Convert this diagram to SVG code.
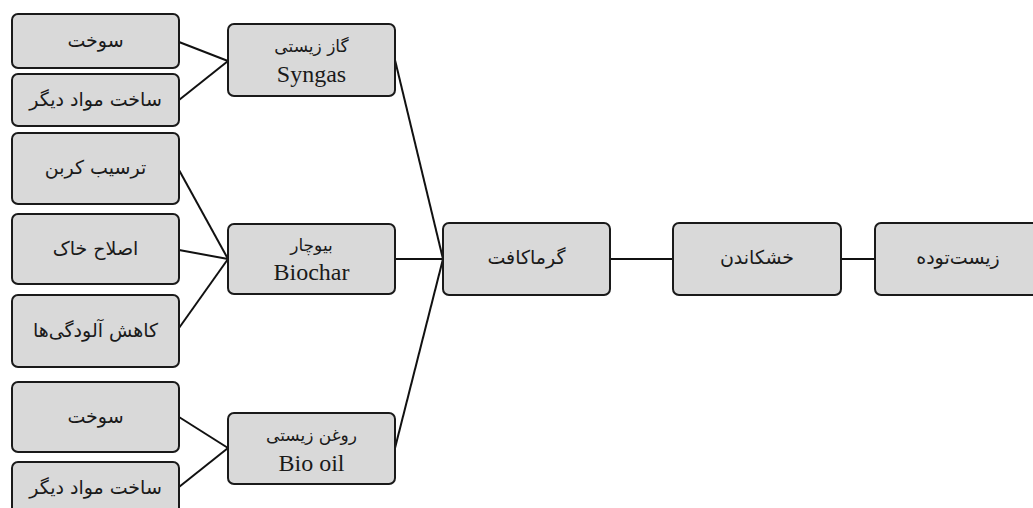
<svg xmlns="http://www.w3.org/2000/svg" width="1033" height="508" viewBox="0 0 1033 508">
<style>
.box{fill:#d9d9d9;stroke:#1a1a1a;stroke-width:2}
.fa{font-family:"DejaVu Sans",sans-serif;font-size:19px;fill:#1a1a1a;text-anchor:middle;dominant-baseline:central}
.fa2{font-family:"DejaVu Sans",sans-serif;font-size:17px;fill:#1a1a1a;text-anchor:middle;dominant-baseline:central}
.en{font-family:"Liberation Serif",serif;font-size:24px;fill:#1a1a1a;text-anchor:middle}
.ln{stroke:#111;stroke-width:2;fill:none}
</style>
<rect width="1033" height="508" fill="#fff"/>
<g id="connectors">
<line class="ln" x1="179" y1="42" x2="228" y2="61"/>
<line class="ln" x1="179" y1="100" x2="228" y2="61"/>
<line class="ln" x1="179" y1="170" x2="228" y2="259"/>
<line class="ln" x1="179" y1="250" x2="228" y2="259"/>
<line class="ln" x1="179" y1="328" x2="228" y2="259"/>
<line class="ln" x1="179" y1="417" x2="228" y2="448"/>
<line class="ln" x1="179" y1="487" x2="228" y2="448"/>
<line class="ln" x1="395" y1="60" x2="443" y2="259"/>
<line class="ln" x1="395" y1="259" x2="443" y2="259"/>
<line class="ln" x1="395" y1="448" x2="443" y2="259"/>
<line class="ln" x1="610" y1="259" x2="673" y2="259"/>
<line class="ln" x1="841" y1="259" x2="875" y2="259"/>
</g>
<g id="fuel1"><rect class="box" x="12" y="14" width="167" height="54" rx="6"/><text class="fa" x="95.5" y="40">سوخت</text></g>
<g id="other1"><rect class="box" x="12" y="74" width="167" height="52" rx="6"/><text class="fa" x="95.5" y="99">ساخت مواد دیگر</text></g>
<g id="carbon"><rect class="box" x="12" y="133" width="167" height="71" rx="6"/><text class="fa" x="95.5" y="167">ترسیب کربن</text></g>
<g id="soil"><rect class="box" x="12" y="214" width="167" height="70" rx="6"/><text class="fa" x="95.5" y="248">اصلاح خاک</text></g>
<g id="pollution"><rect class="box" x="12" y="295" width="167" height="72" rx="6"/><text class="fa" x="95.5" y="330">کاهش آلودگی‌ها</text></g>
<g id="fuel2"><rect class="box" x="12" y="382" width="167" height="70" rx="6"/><text class="fa" x="95.5" y="416">سوخت</text></g>
<g id="other2"><rect class="box" x="12" y="462" width="167" height="70" rx="6"/><text class="fa" x="95.5" y="487">ساخت مواد دیگر</text></g>
<g id="syngas"><rect class="box" x="228" y="24" width="167" height="72" rx="6"/><text class="fa2" x="311.5" y="46">گاز زیستی</text><text class="en" x="311.5" y="82">Syngas</text></g>
<g id="biochar"><rect class="box" x="228" y="224" width="167" height="70" rx="6"/><text class="fa2" x="311.5" y="245">بیوچار</text><text class="en" x="311.5" y="280">Biochar</text></g>
<g id="biooil"><rect class="box" x="228" y="413" width="167" height="71" rx="6"/><text class="fa2" x="311.5" y="435">روغن زیستی</text><text class="en" x="311.5" y="471">Bio oil</text></g>
<g id="pyrolysis"><rect class="box" x="443" y="223" width="167" height="72" rx="6"/><text class="fa" x="526.5" y="257">گرماکافت</text></g>
<g id="drying"><rect class="box" x="673" y="223" width="168" height="72" rx="6"/><text class="fa" x="757" y="257">خشکاندن</text></g>
<g id="biomass"><rect class="box" x="875" y="223" width="167" height="72" rx="6"/><text class="fa" x="958" y="257">زیست‌توده</text></g>
</svg>
